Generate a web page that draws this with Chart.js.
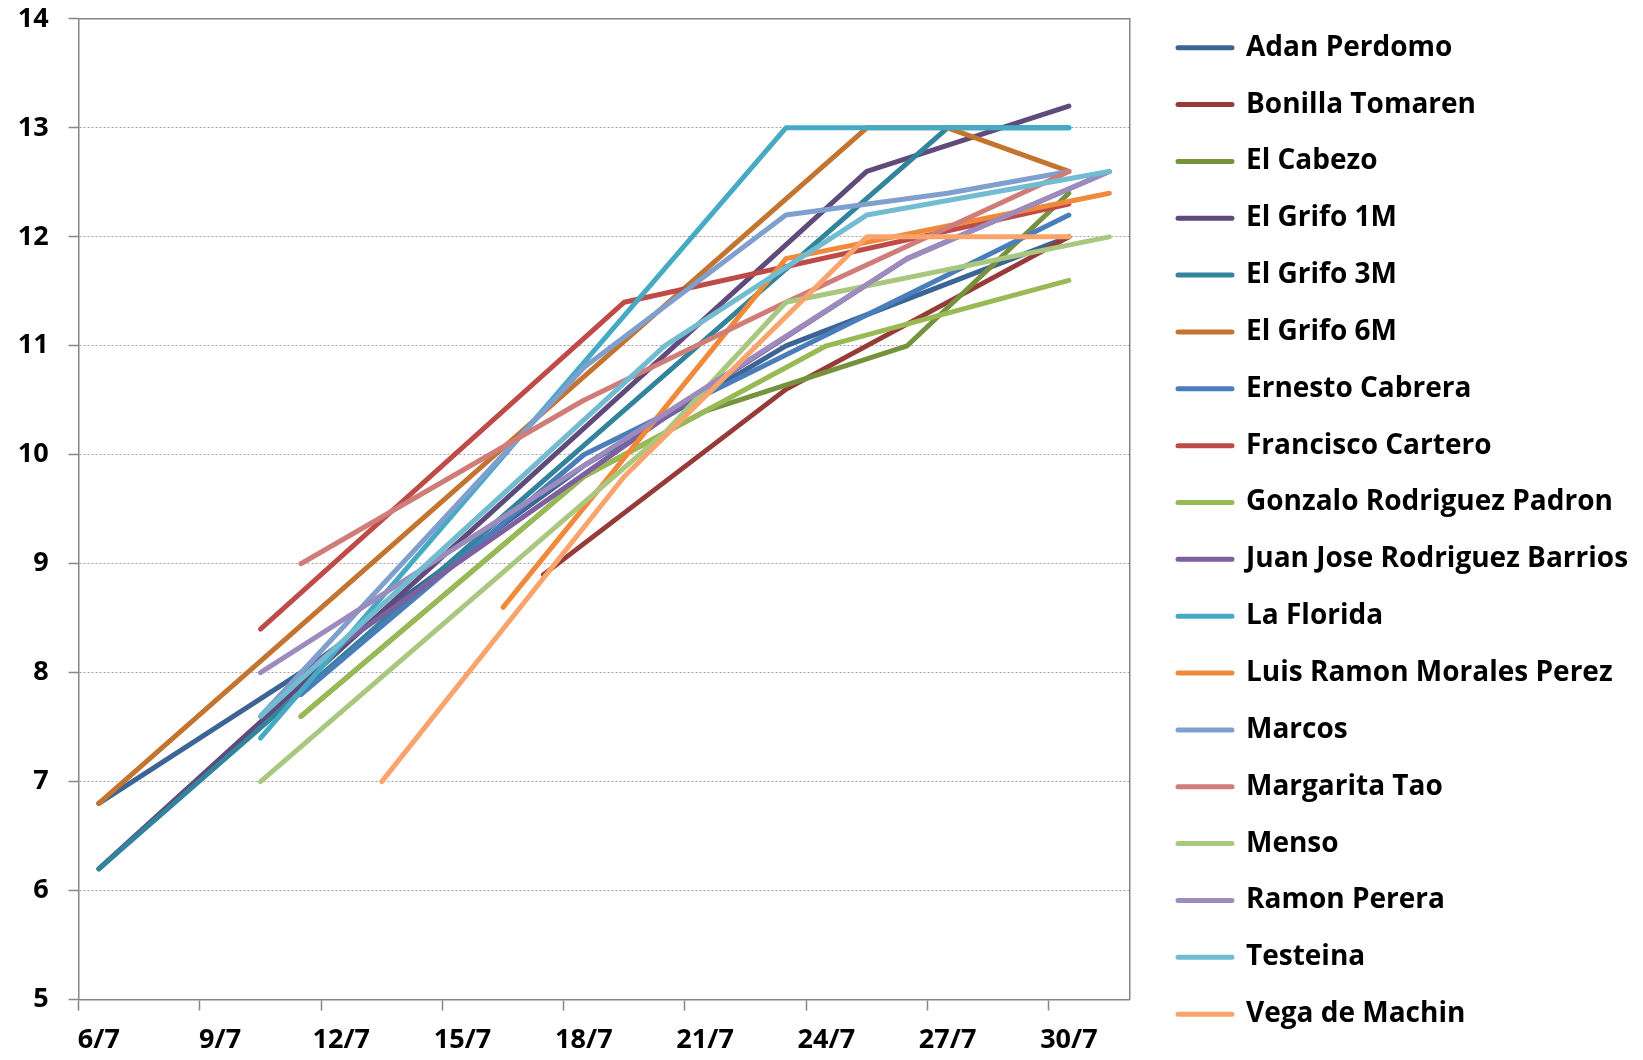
<!DOCTYPE html>
<html>
<head>
<meta charset="utf-8">
<script src="https://cdn.jsdelivr.net/npm/chart.js@4.4.1/dist/chart.umd.min.js"></script>
<style>
  html, body { margin: 0; padding: 0; background: #ffffff; }
  #wrap { width: 1643px; height: 1060px; }
</style>
</head>
<body>
<div id="wrap"><canvas id="c" width="1643" height="1060"></canvas></div>
<script>
// ---- data ----
const dates = ['6/7','10/7','11/7','13/7','16/7','17/7','18/7','19/7','20/7','21/7','23/7','24/7','25/7','26/7','27/7','30/7','31/7'];

const seriesNames = ['Adan Perdomo','Bonilla Tomaren','El Cabezo','El Grifo 1M','El Grifo 3M','El Grifo 6M',
  'Ernesto Cabrera','Francisco Cartero','Gonzalo Rodriguez Padron','Juan Jose Rodriguez Barrios','La Florida',
  'Luis Ramon Morales Perez','Marcos','Margarita Tao','Menso','Ramon Perera','Testeina','Vega de Machin'];

//                        6/7  10/7 11/7 13/7 16/7 17/7 18/7 19/7 20/7 21/7 23/7 24/7 25/7 26/7 27/7 30/7 31/7
const adanPerdomo      = [6.8, null,8.0, null,null,null,9.9, null,null,null,11.0,null,null,null,null,12.0,null];
const bonillaTomaren   = [null,null,null,null,null,8.9, null,null,null,null,10.6,null,null,null,null,12.0,null];
const elCabezo         = [null,null,7.6, null,null,null,9.8, null,null,10.4,null,null,null,11.0,null,12.4,null];
const elGrifo1M        = [6.2, null,null,null,null,null,null,null,null,null,null,null,12.6,null,null,13.2,null];
const elGrifo3M        = [6.2, null,null,null,null,null,null,null,null,null,null,null,null,null,13.0,13.0,null];
const elGrifo6M        = [6.8, null,null,null,null,null,null,null,null,null,null,null,13.0,null,13.0,12.6,null];
const ernestoCabrera   = [null,null,7.8, null,null,null,10.0,null,null,null,null,null,null,null,null,12.2,null];
const franciscoCartero = [null,8.4, null,null,null,null,null,11.4,null,null,null,null,null,null,null,12.3,null];
const gonzaloRodriguez = [null,null,7.6, null,null,null,9.8, null,null,null,null,11.0,null,null,null,11.6,null];
const juanJose         = [null,null,8.0, null,null,null,null,null,null,10.6,null,null,null,11.8,null,null,12.6];
const laFlorida        = [null,7.4, null,null,null,null,null,null,null,null,13.0,null,null,null,null,13.0,null];
const luisRamon        = [null,null,null,null,8.6, null,null,null,null,null,11.8,null,null,null,null,null,12.4];
const marcos           = [null,7.6, null,null,null,null,10.8,null,null,null,12.2,null,null,null,12.4,12.6,null];
const margaritaTao     = [null,null,9.0, null,null,null,10.5,null,null,null,11.4,null,null,null,null,12.6,null];
const menso            = [null,7.0, null,null,null,null,null,null,10.2,null,11.4,null,null,null,null,null,12.0];
const ramonPerera      = [null,8.0, null,null,null,null,null,null,null,null,null,null,null,11.8,null,null,12.6];
const testeina         = [null,7.6, null,null,null,null,null,null,11.0,null,null,null,12.2,null,null,null,12.6];
const vegaDeMachin     = [null,null,null,7.0, null,null,null,9.8, null,null,null,null,12.0,null,null,12.0,null];

const seriesValues = [adanPerdomo, bonillaTomaren, elCabezo, elGrifo1M, elGrifo3M, elGrifo6M,
  ernestoCabrera, franciscoCartero, gonzaloRodriguez, juanJose, laFlorida, luisRamon,
  marcos, margaritaTao, menso, ramonPerera, testeina, vegaDeMachin];

const seriesColors = ['#3C6494','#963B38','#76923C','#604A7B','#31849B','#C3742F',
  '#4A7EBB','#BE4B48','#98B954','#7D60A0','#46AAC5','#F0893A',
  '#7F9FCF','#D07C79','#AAC77F','#9E8BBE','#72BCD2','#F9A46C'];

const tickLabels = ['6/7','9/7','12/7','15/7','18/7','21/7','24/7','27/7','30/7'];
const yMin = 5, yMax = 14;

// ---- layout constants ----
const W = 1643, H = 1060;
const FONT = '"Open Sans", Lato, "Liberation Sans", Arial, sans-serif';
const FS = 28;
const LEG_PAD = 28.85;
const LEG_BOX = 54;
const PLOT_LEFT = 78.6, PLOT_RIGHT = 1129.5, PLOT_TOP = 18.9, PLOT_BOTTOM = 999.6;
const LEG_BOX_X = 1178;
const TOP_PAD = 4.85;

const dayOf = s => parseInt(s.split('/')[0], 10);

// measure legend text to place legend (Chart.js legend width = padding + item width + 10)
const mctx = document.createElement('canvas').getContext('2d');
mctx.font = 'normal bold ' + FS + 'px ' + FONT;
const maxTW = Math.max(...seriesNames.map(n => mctx.measureText(n).width));
const legendW = LEG_PAD + 10 + LEG_BOX + FS / 2 + maxTW;
const legendLeft = LEG_BOX_X - LEG_PAD;
const padRight = W - legendLeft - legendW;
const gapRight = Math.max(0, legendLeft - PLOT_RIGHT);

const datasets = seriesNames.map((name, i) => ({
  label: name,
  data: dates.map((d, j) => ({ x: dayOf(d), y: seriesValues[i][j] })).filter(p => p.y !== null),
  borderColor: seriesColors[i],
  backgroundColor: seriesColors[i],
  borderWidth: 5,
  borderCapStyle: 'round',
  borderJoinStyle: 'round',
  pointRadius: 0,
  pointHoverRadius: 0,
  tension: 0,
  fill: false,
  order: seriesNames.length - i
}));

const tickFont = { family: FONT, size: 27, weight: 'bold' };
const AXIS = '#868686';

new Chart(document.getElementById('c').getContext('2d'), {
  type: 'line',
  data: { datasets },
  options: {
    responsive: false,
    animation: false,
    events: [],
    layout: { padding: { top: TOP_PAD, right: padRight, bottom: 0, left: 0 } },
    plugins: {
      legend: {
        position: 'right',
        align: 'start',
        maxWidth: 2000,
        labels: {
          font: { family: FONT, size: FS, weight: 'bold' },
          color: '#000000',
          boxWidth: LEG_BOX,
          boxHeight: 0,
          padding: LEG_PAD,
          sort: (a, b) => a.datasetIndex - b.datasetIndex
        }
      },
      tooltip: { enabled: false }
    },
    scales: {
      x: {
        type: 'linear',
        position: 'bottom',
        min: dayOf(tickLabels[0]) - 0.5,
        max: dayOf(dates[dates.length - 1]) + 0.5,
        afterBuildTicks: ax => { ax.ticks = tickLabels.map(t => ({ value: dayOf(t) - 0.5 })); },
        afterFit: ax => { ax.height = H - PLOT_BOTTOM; ax.paddingLeft = 0; ax.paddingRight = 0; },
        ticks: {
          callback: (v, i) => tickLabels[i],
          autoSkip: false,
          maxRotation: 0,
          minRotation: 0,
          labelOffset: 20.2,
          padding: 14,
          font: tickFont,
          color: '#000000'
        },
        grid: { drawOnChartArea: false, drawTicks: true, tickLength: 11, tickColor: AXIS, tickWidth: 1.5, color: AXIS },
        border: { color: AXIS, width: 1.5 }
      },
      y: {
        position: 'left',
        min: yMin,
        max: yMax,
        afterFit: ax => { ax.width = PLOT_LEFT; ax.paddingTop = 0; ax.paddingBottom = 0; },
        ticks: { stepSize: 1, padding: 20, font: tickFont, color: '#000000' },
        grid: { color: '#A0A0A0', lineWidth: 1, tickLength: 10, tickColor: AXIS, tickWidth: 1.5, tickBorderDash: [] },
        border: { color: AXIS, width: 1.5, dash: [2, 2] }
      },
      xTop: {
        type: 'linear',
        position: 'top',
        afterFit: ax => { ax.height = PLOT_TOP - TOP_PAD; ax.paddingLeft = 0; ax.paddingRight = 0; },
        ticks: { display: false },
        grid: { display: false, drawTicks: false },
        border: { color: AXIS, width: 1.5 }
      },
      yRight: {
        type: 'linear',
        position: 'right',
        afterFit: ax => { ax.width = gapRight; ax.paddingTop = 0; ax.paddingBottom = 0; },
        ticks: { display: false },
        grid: { display: false, drawTicks: false },
        border: { color: AXIS, width: 1.5 }
      }
    }
  }
});
</script>
</body>
</html>
